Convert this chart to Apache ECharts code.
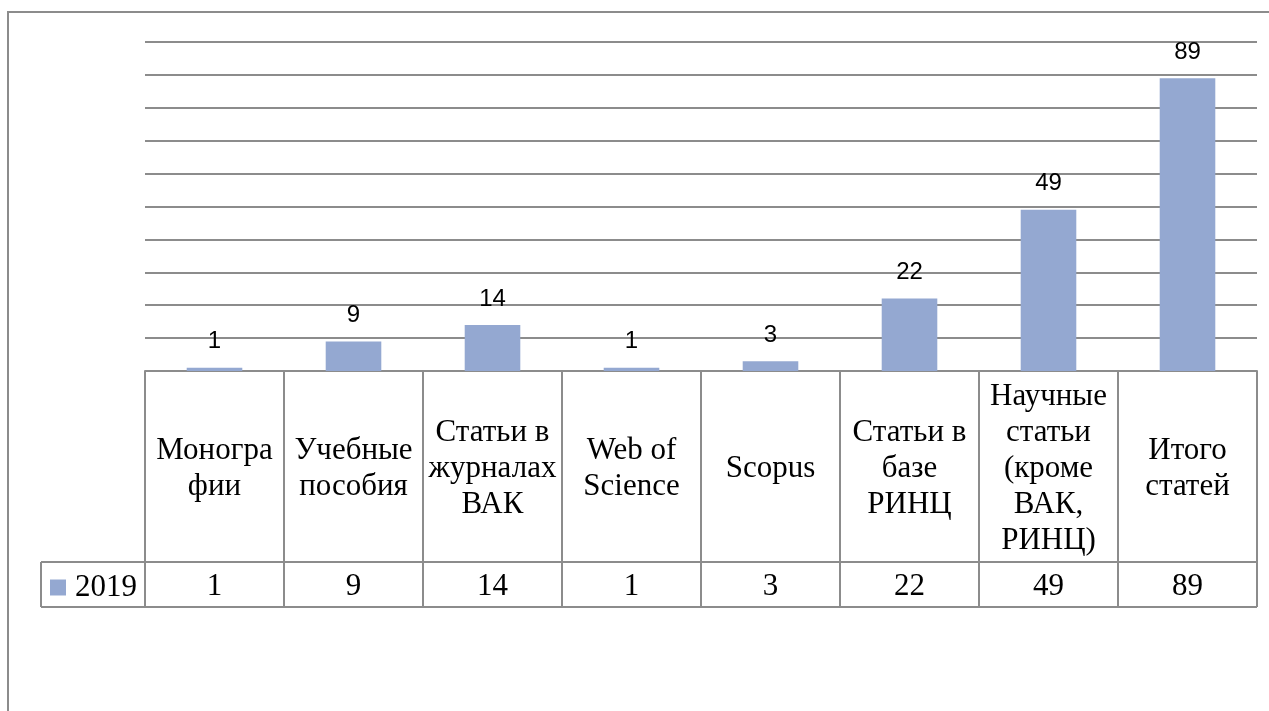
<!DOCTYPE html>
<html><head><meta charset="utf-8">
<script src="https://cdn.jsdelivr.net/npm/echarts@6/dist/echarts.min.js"></script>
<style>html,body{margin:0;padding:0;background:#fff}#c{width:1269px;height:711px}</style>
</head><body><div id="c"></div>
<script>
const categories = ['Моногра\nфии','Учебные\nпособия','Статьи в\nжурналах\nВАК','Web of\nScience','Scopus','Статьи в\nбазе\nРИНЦ','Научные\nстатьи\n(кроме\nВАК,\nРИНЦ)','Итого\nстатей'];
const seriesName = '2019';
const values = [1, 9, 14, 1, 3, 22, 49, 89];

const GRID = '#8c8c8c';
const BAR = '#94A8D1';
const SERIF = '"Liberation Serif","Times New Roman",serif';
const FS = 31;
const chart = echarts.init(document.getElementById('c'), null, {renderer:'canvas'});
const gridTop = 42, gridBottomY = 371, tableMidY = 562, tableBottomY = 607, legendLeft = 41;

chart.setOption({
  animation:false,
  backgroundColor:'#fff',
  grid:{left:145, right:12, top:gridTop, bottom:711-gridBottomY, containLabel:false},
  legend:{show:true, data:[seriesName], left:50, top:572, padding:0, icon:'rect', itemWidth:16, itemHeight:16, itemGap:4,
    textStyle:{fontFamily:SERIF, fontSize:FS, color:'#000', padding:[0,0,0,4]}},
  xAxis:{type:'category', data:categories,
    axisLine:{show:true, lineStyle:{color:GRID, width:2}},
    axisTick:{show:true, length:tableBottomY-gridBottomY, lineStyle:{color:GRID, width:2}},
    axisLabel:{interval:0, margin:98, verticalAlign:'middle', align:'center', fontFamily:SERIF, fontSize:FS, lineHeight:36, color:'#000'},
    splitLine:{show:false}},
  yAxis:{type:'value', min:0, max:100, interval:10,
    axisLine:{show:false}, axisTick:{show:false}, axisLabel:{show:false},
    splitLine:{show:true, lineStyle:{color:GRID, width:2}}},
  series:[{name:seriesName, type:'bar', data:values, barWidth:'40%',
    itemStyle:{color:BAR},
    label:{show:true, position:'top', distance:14, fontFamily:'"Liberation Sans",Arial,sans-serif', fontSize:24, color:'#000'}}]
});

function drawTable(){
  const n = categories.length;
  const x0 = chart.convertToPixel({gridIndex:0}, [0,0])[0];
  const x1 = chart.convertToPixel({gridIndex:0}, [1,0])[0];
  const band = x1 - x0;
  const leftEdge = x0 - band/2;
  const rightEdge = leftEdge + band*n;
  const els = [
    {type:'polyline', shape:{points:[[8,711],[8,12],[1269,12]]}, style:{stroke:GRID, lineWidth:2, fill:null}},
    {type:'line', shape:{x1:legendLeft, y1:tableMidY, x2:rightEdge, y2:tableMidY}, style:{stroke:GRID, lineWidth:2}},
    {type:'line', shape:{x1:legendLeft, y1:tableBottomY, x2:rightEdge, y2:tableBottomY}, style:{stroke:GRID, lineWidth:2}},
    {type:'line', shape:{x1:legendLeft, y1:tableMidY, x2:legendLeft, y2:tableBottomY}, style:{stroke:GRID, lineWidth:2}}
  ];
  values.forEach((v,i)=>{
    const cx = chart.convertToPixel({gridIndex:0}, [i,0])[0];
    els.push({type:'text', style:{x:cx, y:(tableMidY+tableBottomY)/2+2, text:String(v), align:'center', verticalAlign:'middle',
      font:FS+'px "Liberation Serif", serif', fill:'#000'}});
  });
  chart.setOption({graphic:{elements:els}});
}
drawTable();
</script></body></html>
